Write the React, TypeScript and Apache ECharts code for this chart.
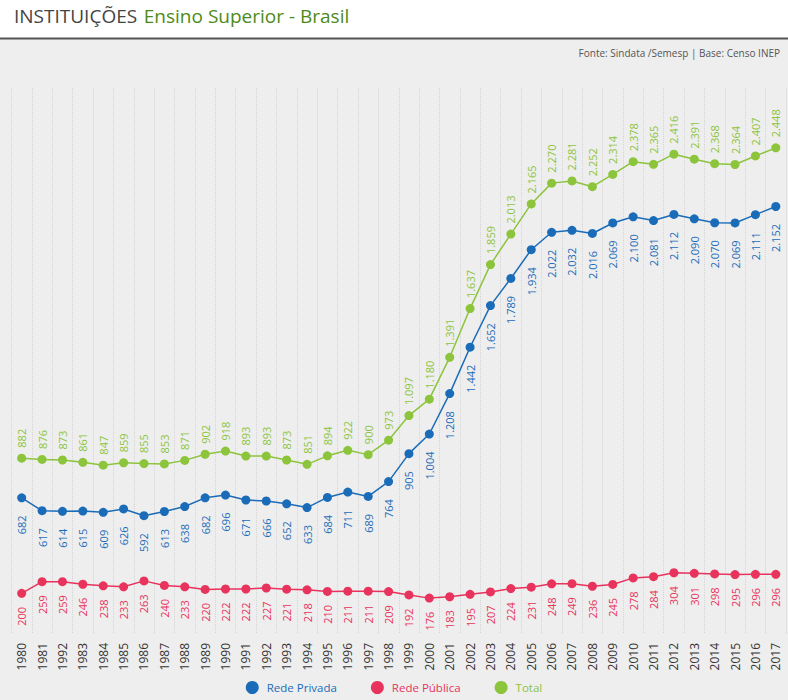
import React, { useEffect, useRef } from "react";
import * as echarts from "echarts";

const years = ["1980","1981","1992","1983","1984","1985","1986","1987","1988","1989","1990","1991","1992","1993","1994","1995","1996","1997","1998","1999","2000","2001","2002","2003","2004","2005","2006","2007","2008","2009","2010","2011","2012","2013","2014","2015","2016","2017"];
const privada = [682,617,614,615,609,626,592,613,638,682,696,671,666,652,633,684,711,689,764,905,1004,1208,1442,1652,1789,1934,2022,2032,2016,2069,2100,2081,2112,2090,2070,2069,2111,2152];
const publica = [200,259,259,246,238,233,263,240,233,220,222,222,227,221,218,210,211,211,209,192,176,183,195,207,224,231,248,249,236,245,278,284,304,301,298,295,296,296];
const total = [882,876,873,861,847,859,855,853,871,902,918,893,893,873,851,894,922,900,973,1097,1180,1391,1637,1859,2013,2165,2270,2281,2252,2314,2378,2365,2416,2391,2368,2364,2407,2448];

const seriesNames = ["Rede Privada", "Rede Pública", "Total"];
const colors = ["#1b6cb8", "#e8335c", "#8cc43c"];

const fmt = (v: number) => {
  if (v >= 1000) {
    const t = Math.floor(v / 1000);
    const r = String(v % 1000).padStart(3, "0");
    return t + "." + r;
  }
  return String(v);
};

const FONT = "'Open Sans', 'Noto Sans', sans-serif";

export default function App() {
  const ref = useRef<HTMLDivElement>(null);
  useEffect(() => {
    if (!ref.current) return;
    const chart = echarts.init(ref.current, null, { renderer: "svg" });
    const mkLabel = (color: string, pos: "top" | "bottom", dist: number) => ({
      show: true,
      position: pos,
      distance: dist,
      rotate: 90,
      align: pos === "top" ? "left" : "right",
      verticalAlign: "middle",
      color,
      fontSize: 11,
      fontFamily: FONT,
      formatter: (p: any) => fmt(p.value),
    });
    const datas = [privada, publica, total];
    const labelPos: ("top" | "bottom")[] = ["bottom", "bottom", "top"];
    const labelDist = [13, 9, 6];
    chart.setOption({
      animation: false,
      backgroundColor: "#eeeeee",
      textStyle: { fontFamily: FONT },
      graphic: [
        { type: "rect", left: 0, top: 0, shape: { width: 788, height: 38 }, style: { fill: "#ffffff" }, silent: true },
        { type: "line", shape: { x1: 0, y1: 38.5, x2: 788, y2: 38.5 }, style: { stroke: "#555555", lineWidth: 2 }, silent: true },
        {
          type: "text",
          left: 14,
          top: 6,
          style: {
            text: "{a|INSTITUIÇÕES}  {b|Ensino Superior - Brasil}",
            rich: {
              a: { fontSize: 19, fill: "#444444", fontFamily: FONT },
              b: { fontSize: 19, fill: "#4e8a18", fontFamily: FONT },
            },
          },
        },
        {
          type: "text",
          right: 8,
          top: 48,
          style: { text: "Fonte: Sindata /Semesp | Base: Censo INEP", fontSize: 10, fill: "#555555", fontFamily: FONT },
        },
      ],
      legend: {
        bottom: 1,
        left: "center",
        icon: "circle",
        itemWidth: 13,
        itemHeight: 13,
        itemGap: 34,
        data: seriesNames.map((n, i) => ({ name: n, textStyle: { color: colors[i], fontSize: 11.5, fontFamily: FONT, padding: [0, 0, 0, 3] } })),
      },
      grid: { left: 11.5, right: 2, top: 88, bottom: 67, outerBoundsMode: "none" },
      xAxis: {
        type: "category",
        data: years,
        boundaryGap: true,
        axisLine: { show: false },
        axisTick: { show: false },
        axisLabel: { interval: 0, rotate: 90, color: "#333333", fontSize: 12, margin: 10, fontFamily: FONT },
        splitLine: { show: true, interval: 0, lineStyle: { color: "#d4d4d4", type: "dotted", width: 1 } },
      },
      yAxis: { type: "value", min: 0, max: 2750, show: false, splitLine: { show: false } },
      series: seriesNames.map((n, i) => ({
        name: n,
        type: "line",
        data: datas[i],
        color: colors[i],
        symbol: "circle",
        symbolSize: 9,
        lineStyle: { width: 1.5, color: colors[i] },
        itemStyle: { color: colors[i] },
        label: mkLabel(colors[i], labelPos[i], labelDist[i]),
      })),
    });
    return () => chart.dispose();
  }, []);
  return <div ref={ref} style={{ position: "fixed", left: 0, top: 0, width: 788, height: 700 }} />;
}
